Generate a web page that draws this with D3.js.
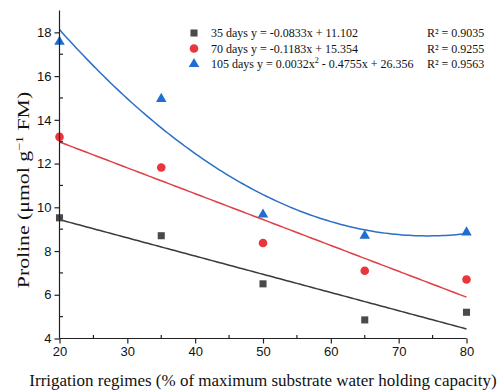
<!DOCTYPE html>
<html>
<head>
<meta charset="utf-8">
<script src="https://cdn.jsdelivr.net/npm/d3@7"></script>
<style>
  body { margin: 0; background: #fff; }
  svg text { fill: #111; }
</style>
</head>
<body>
<div class="chart"></div>
<script>
// irrigation regime (% of max substrate water holding capacity)
var regimes = [20, 35, 50, 65, 80];

// proline values
var days35 = [9.52, 8.7, 6.5, 4.85, 5.2];
var days70 = [13.22, 11.82, 8.37, 7.1, 6.7];
var days105 = [17.57, 14.96, 9.67, 8.7, 8.85];

// fitted coefficients from the legend: [c2, c1, c0]
var fit35 = [0, -0.0833, 11.102];
var fit70 = [0, -0.1183, 15.354];
var fit105 = [0.0032, -0.4755, 26.356];

var xTicks = [20, 30, 40, 50, 60, 70, 80];
var yTicks = [4, 6, 8, 10, 12, 14, 16, 18];

var serif = "'Liberation Serif', 'Times New Roman', serif";
var sans = "'Liberation Sans', Arial, sans-serif";

var W = 499, H = 392;
var svg = d3.select(".chart").append("svg")
            .attr("width", W)
            .attr("height", H);

var x = d3.scaleLinear().domain([20, 80]).range([59.5, 466.5]);
var y = d3.scaleLinear().domain([4, 19]).range([338.5, 10.5]);

var series = [
  {name: "35 days", vals: days35, fit: fit35, color: "#4a4a4a", line: "#3a3a3a", shape: d3.symbolSquare, size: 50,
   eq: ["y = -0.0833x + 11.102"], r2: "0.9035"},
  {name: "70 days", vals: days70, fit: fit70, color: "#e8363c", line: "#de3f45", shape: d3.symbolCircle, size: 58,
   eq: ["y = -0.1183x + 15.354"], r2: "0.9255"},
  {name: "105 days", vals: days105, fit: fit105, color: "#1f6fd1", line: "#2b6fc6", shape: d3.symbolTriangle, size: 48,
   eq: ["y = 0.0032x", "2", " - 0.4755x + 26.356"], r2: "0.9563"}
];

// fitted lines
var xs = d3.range(20, 80.01, 0.5);
series.forEach(function(s) {
  var pts = xs.map(function(v) { return [v, s.fit[0] * v * v + s.fit[1] * v + s.fit[2]]; });
  svg.append("path")
     .attr("d", d3.line().x(function(d) { return x(d[0]); }).y(function(d) { return y(d[1]); })(pts))
     .attr("fill", "none")
     .attr("stroke", s.line)
     .attr("stroke-width", 1.5);
});

// markers
series.forEach(function(s) {
  svg.selectAll(null)
     .data(s.vals)
     .enter()
     .append("path")
     .attr("d", d3.symbol().type(s.shape).size(s.size))
     .attr("transform", function(d, i) { return "translate(" + x(regimes[i]) + "," + y(d) + ")"; })
     .attr("fill", s.color);
});

// axes
var xAxis = svg.append("g").attr("transform", "translate(0,338.5)")
  .call(d3.axisBottom(x).tickValues(xTicks).tickSize(5).tickPadding(3));
var yAxis = svg.append("g").attr("transform", "translate(59.5,0)")
  .call(d3.axisLeft(y).tickValues(yTicks).tickSize(5).tickPadding(3));

[xAxis, yAxis].forEach(function(a) {
  a.select(".domain").attr("stroke", "#222").attr("stroke-width", 1.2);
  a.selectAll(".tick line").attr("stroke", "#222").attr("stroke-width", 1.2);
  a.selectAll("text").style("font-family", sans).style("font-size", "13px").attr("fill", "#111");
});
xAxis.select(".domain").attr("d", "M59.5,0H466.5");
yAxis.select(".domain").attr("d", "M0,10.5V338.5");

// minor ticks point inward
svg.selectAll(".xminor").data(d3.range(25, 80, 10)).enter().append("line")
   .attr("x1", function(d) { return x(d); }).attr("x2", function(d) { return x(d); })
   .attr("y1", 338.5).attr("y2", 335).attr("stroke", "#222").attr("stroke-width", 1.2);
svg.selectAll(".yminor").data(d3.range(5, 19, 2)).enter().append("line")
   .attr("x1", 59.5).attr("x2", 63).attr("y1", function(d) { return y(d); }).attr("y2", function(d) { return y(d); })
   .attr("stroke", "#222").attr("stroke-width", 1.2);

// axis titles
svg.append("text")
   .attr("x", 263).attr("y", 386)
   .attr("text-anchor", "middle")
   .style("font-family", serif)
   .style("font-size", "17px")
   .text("Irrigation regimes (% of maximum substrate water holding capacity)");

// y title is stretched along its length in the source figure
var yl = svg.append("text")
   .attr("transform", "translate(29,190) rotate(-90) scale(1.28,1)")
   .attr("text-anchor", "middle")
   .style("font-family", serif)
   .style("font-size", "17px");
yl.append("tspan").text("Proline (μmol g");
yl.append("tspan").attr("dy", -6).style("font-size", "11px").text("−1");
yl.append("tspan").attr("dy", 6).text(" FM)");

// legend
var lg = svg.append("g")
   .style("font-family", serif)
   .style("font-size", "12px");
series.forEach(function(s, i) {
  var ly = 33 + i * 15.5;
  lg.append("path")
    .attr("d", d3.symbol().type(s.shape).size(s.size))
    .attr("transform", "translate(194," + ly + ")")
    .attr("fill", s.color);
  var t = lg.append("text").attr("x", 211).attr("y", ly + 4);
  t.append("tspan").text(s.name + " " + s.eq[0]);
  if (s.eq.length > 1) {
    t.append("tspan").attr("dy", -5).style("font-size", "8px").text(s.eq[1]);
    t.append("tspan").attr("dy", 5).text(s.eq[2]);
  }
  lg.append("text").attr("x", 427).attr("y", ly + 4).text("R² = " + s.r2);
});
</script>
</body>
</html>
